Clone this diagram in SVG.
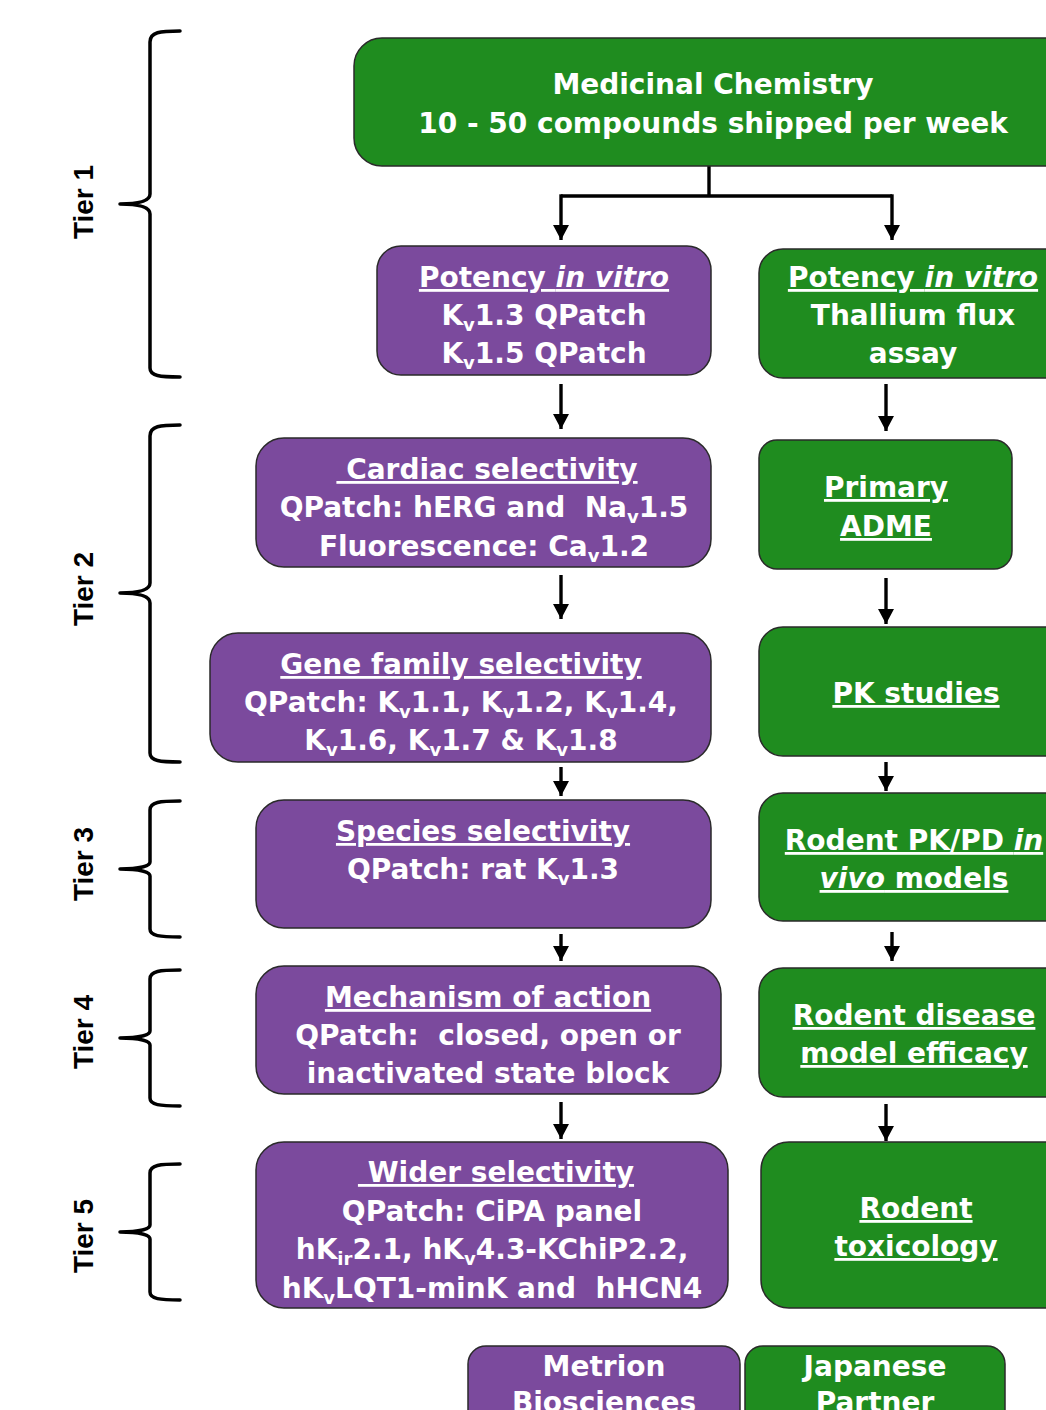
<svg xmlns="http://www.w3.org/2000/svg" width="1046" height="1410" viewBox="0 0 1046 1410">
<defs>
<style>
.p{fill:#7B4A9D;stroke:#2a2a2a;stroke-width:1.5}
.g{fill:#1F8C1F;stroke:#2a2a2a;stroke-width:1.5}
.t{font-family:"DejaVu Sans","Liberation Sans",sans-serif;font-weight:bold;font-size:28px;fill:#fff;text-anchor:middle;white-space:pre}
.u{text-decoration:underline}
.i{font-style:italic}
.s{font-size:18px}
.tier{font-family:"Liberation Sans",Arial,sans-serif;font-weight:bold;font-size:28px;fill:#000;text-anchor:middle}
.br{fill:none;stroke:#000;stroke-width:3.5;stroke-linecap:round;stroke-linejoin:round}
.c{fill:none;stroke:#000;stroke-width:3.4}
</style>
<marker id="a" viewBox="0 0 16 15" refX="8" refY="15" markerWidth="16" markerHeight="15" markerUnits="userSpaceOnUse" orient="0">
<path d="M0,0 L16,0 L8,15 z" fill="#000"/>
</marker>
</defs>

<g id="braces">
<path class="br" d="M180,31 C160,31 150,32 150,42 L150,194 C150,201 140,204 120,204 C140,204 150,207 150,214 L150,368 C150,376 160,377 180,377"/>
<path class="br" d="M180,425 C160,425 150,426 150,436 L150,583 C150,590 140,593 120,593 C140,593 150,596 150,603 L150,753 C150,761 160,762 180,762"/>
<path class="br" d="M180,801 C160,801 150,802 150,810 L150,862 C150,866 140,869 120,869 C140,869 150,872 150,876 L150,929 C150,936 160,937 180,937"/>
<path class="br" d="M180,970 C160,970 150,971 150,979 L150,1031 C150,1035 140,1038 120,1038 C140,1038 150,1041 150,1045 L150,1098 C150,1105 160,1106 180,1106"/>
<path class="br" d="M180,1164 C160,1164 150,1165 150,1173 L150,1225 C150,1229 140,1232 120,1232 C140,1232 150,1235 150,1239 L150,1292 C150,1299 160,1300 180,1300"/>
</g>

<g id="tier-labels">
<text class="tier" transform="translate(93,202) rotate(-90)">Tier 1</text>
<text class="tier" transform="translate(93,589) rotate(-90)">Tier 2</text>
<text class="tier" transform="translate(93,864) rotate(-90)">Tier 3</text>
<text class="tier" transform="translate(93,1032) rotate(-90)">Tier 4</text>
<text class="tier" transform="translate(93,1236) rotate(-90)">Tier 5</text>
</g>

<g id="connectors">
<path class="c" d="M709,166 L709,196 M561,196 L892,196"/>
<path class="c" d="M561,194.3 L561,240" marker-end="url(#a)"/>
<path class="c" d="M892,194.3 L892,240" marker-end="url(#a)"/>
<path class="c" d="M561,384 L561,429" marker-end="url(#a)"/>
<path class="c" d="M886,384 L886,431" marker-end="url(#a)"/>
<path class="c" d="M561,575 L561,619" marker-end="url(#a)"/>
<path class="c" d="M886,578 L886,624" marker-end="url(#a)"/>
<path class="c" d="M561,767 L561,796" marker-end="url(#a)"/>
<path class="c" d="M886,762 L886,791" marker-end="url(#a)"/>
<path class="c" d="M561,934 L561,961" marker-end="url(#a)"/>
<path class="c" d="M892,932 L892,961" marker-end="url(#a)"/>
<path class="c" d="M561,1102 L561,1139" marker-end="url(#a)"/>
<path class="c" d="M886,1104 L886,1141" marker-end="url(#a)"/>
</g>

<g id="medchem">
<rect class="g" x="354" y="38" width="730" height="128" rx="28"/>
<text class="t" x="713" y="94">Medicinal Chemistry</text>
<text class="t" x="713" y="133">10 - 50 compounds shipped per week</text>
</g>

<g id="potency-purple">
<rect class="p" x="377" y="246" width="334" height="129" rx="24"/>
<text class="t" x="544" y="287"><tspan class="u">Potency <tspan class="i">in vitro</tspan></tspan></text>
<text class="t" x="544" y="325">K<tspan class="s" dy="6">v</tspan><tspan dy="-6">1.3 QPatch</tspan></text>
<text class="t" x="544" y="363">K<tspan class="s" dy="6">v</tspan><tspan dy="-6">1.5 QPatch</tspan></text>
</g>

<g id="potency-green">
<rect class="g" x="759" y="249" width="330" height="129" rx="24"/>
<text class="t" x="913" y="287"><tspan class="u">Potency <tspan class="i">in vitro</tspan></tspan></text>
<text class="t" x="913" y="325">Thallium flux</text>
<text class="t" x="913" y="363">assay</text>
</g>

<g id="cardiac">
<rect class="p" x="256" y="438" width="455" height="129" rx="28"/>
<text class="t" x="487" y="479"><tspan class="u"> Cardiac selectivity</tspan></text>
<text class="t" x="484" y="517">QPatch: hERG and  Na<tspan class="s" dy="6">v</tspan><tspan dy="-6">1.5</tspan></text>
<text class="t" x="484" y="556">Fluorescence: Ca<tspan class="s" dy="6">v</tspan><tspan dy="-6">1.2</tspan></text>
</g>

<g id="adme">
<rect class="g" x="759" y="440" width="253" height="129" rx="18"/>
<text class="t" x="886" y="497"><tspan class="u">Primary</tspan></text>
<text class="t" x="886" y="536"><tspan class="u">ADME</tspan></text>
</g>

<g id="gene-family">
<rect class="p" x="210" y="633" width="501" height="129" rx="28"/>
<text class="t" x="461" y="674"><tspan class="u">Gene family selectivity</tspan></text>
<text class="t" x="461" y="712">QPatch: K<tspan class="s" dy="6">v</tspan><tspan dy="-6">1.1, K</tspan><tspan class="s" dy="6">v</tspan><tspan dy="-6">1.2, K</tspan><tspan class="s" dy="6">v</tspan><tspan dy="-6">1.4,</tspan></text>
<text class="t" x="461" y="750">K<tspan class="s" dy="6">v</tspan><tspan dy="-6">1.6, K</tspan><tspan class="s" dy="6">v</tspan><tspan dy="-6">1.7 &amp; K</tspan><tspan class="s" dy="6">v</tspan><tspan dy="-6">1.8</tspan></text>
</g>

<g id="pk">
<rect class="g" x="759" y="627" width="330" height="129" rx="24"/>
<text class="t" x="916" y="703"><tspan class="u">PK studies</tspan></text>
</g>

<g id="species">
<rect class="p" x="256" y="800" width="455" height="128" rx="28"/>
<text class="t" x="483" y="841"><tspan class="u">Species selectivity</tspan></text>
<text class="t" x="483" y="879">QPatch: rat K<tspan class="s" dy="6">v</tspan><tspan dy="-6">1.3</tspan></text>
</g>

<g id="pkpd">
<rect class="g" x="759" y="793" width="330" height="128" rx="24"/>
<text class="t" x="914" y="850"><tspan class="u">Rodent PK/PD <tspan class="i">in</tspan></tspan></text>
<text class="t" x="914" y="888"><tspan class="u"><tspan class="i">vivo</tspan> models</tspan></text>
</g>

<g id="mechanism">
<rect class="p" x="256" y="966" width="465" height="128" rx="28"/>
<text class="t" x="488" y="1007"><tspan class="u">Mechanism of action</tspan></text>
<text class="t" x="488" y="1045">QPatch:  closed, open or</text>
<text class="t" x="488" y="1083">inactivated state block</text>
</g>

<g id="disease">
<rect class="g" x="759" y="968" width="330" height="129" rx="24"/>
<text class="t" x="914" y="1025"><tspan class="u">Rodent disease</tspan></text>
<text class="t" x="914" y="1063"><tspan class="u">model efficacy</tspan></text>
</g>

<g id="wider">
<rect class="p" x="256" y="1142" width="472" height="166" rx="28"/>
<text class="t" x="496" y="1182"><tspan class="u"> Wider selectivity</tspan></text>
<text class="t" x="492" y="1221">QPatch: CiPA panel</text>
<text class="t" x="492" y="1259">hK<tspan class="s" dy="6">ir</tspan><tspan dy="-6">2.1, hK</tspan><tspan class="s" dy="6">v</tspan><tspan dy="-6">4.3-KChiP2.2,</tspan></text>
<text class="t" x="492" y="1298">hK<tspan class="s" dy="6">v</tspan><tspan dy="-6">LQT1-minK and  hHCN4</tspan></text>
</g>

<g id="toxicology">
<rect class="g" x="761" y="1142" width="330" height="166" rx="28"/>
<text class="t" x="916" y="1218"><tspan class="u">Rodent</tspan></text>
<text class="t" x="916" y="1256"><tspan class="u">toxicology</tspan></text>
</g>

<g id="metrion">
<rect class="p" x="468" y="1346" width="272" height="100" rx="18"/>
<text class="t" x="604" y="1376">Metrion</text>
<text class="t" x="604" y="1412">Biosciences</text>
</g>

<g id="japanese">
<rect class="g" x="745" y="1346" width="260" height="100" rx="18"/>
<text class="t" x="875" y="1376">Japanese</text>
<text class="t" x="875" y="1412">Partner</text>
</g>
</svg>
